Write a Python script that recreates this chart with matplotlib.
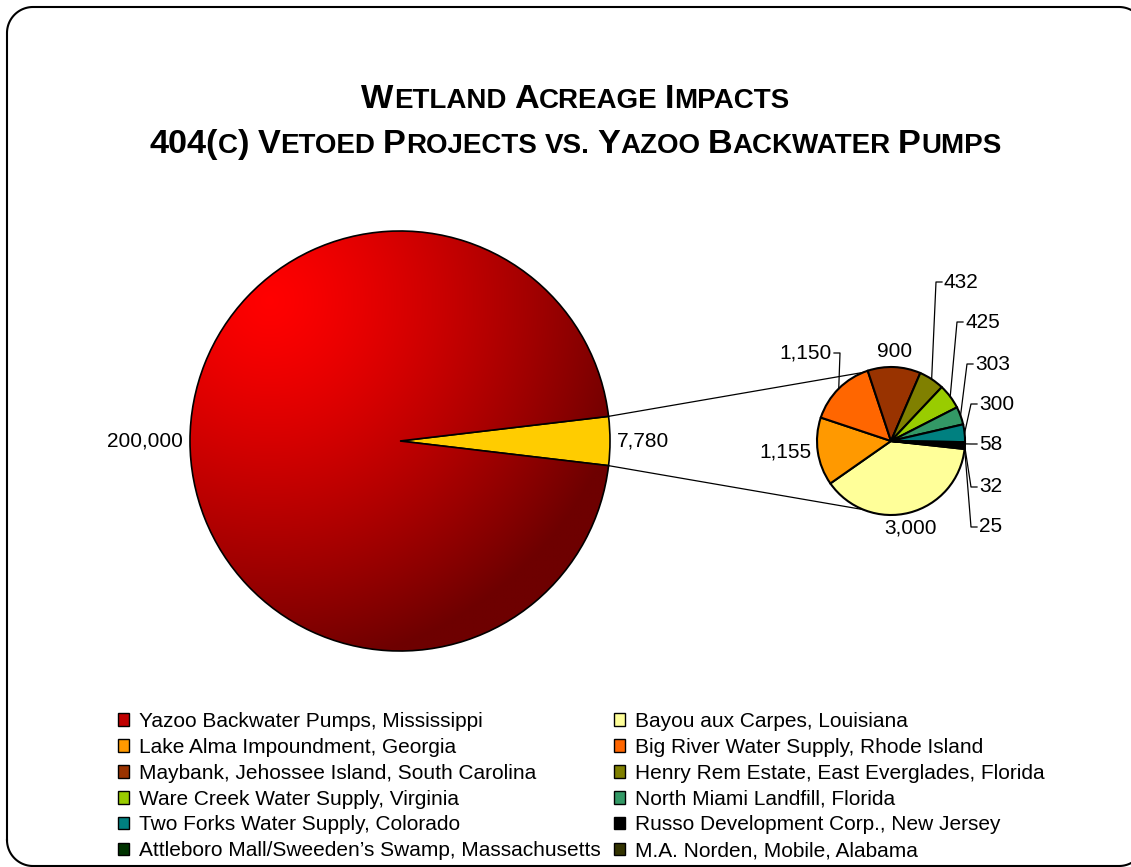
import numpy as np
import matplotlib
matplotlib.use('Agg')
import matplotlib.pyplot as plt
from matplotlib.patches import Patch
from matplotlib.colors import LinearSegmentedColormap

plt.rcParams['font.family'] = ['Liberation Sans', 'DejaVu Sans']

# ---- data ----
yazoo_name = 'Yazoo Backwater Pumps, Mississippi'
yazoo_acres = 200000
yazoo_color = '#c00000'
other_color = '#ffcc00'

vetoed_names = [
    'Bayou aux Carpes, Louisiana',
    'Lake Alma Impoundment, Georgia',
    'Big River Water Supply, Rhode Island',
    'Maybank, Jehossee Island, South Carolina',
    'Henry Rem Estate, East Everglades, Florida',
    'Ware Creek Water Supply, Virginia',
    'North Miami Landfill, Florida',
    'Two Forks Water Supply, Colorado',
    'Russo Development Corp., New Jersey',
    'Attleboro Mall/Sweeden\u2019s Swamp, Massachusetts',
    'M.A. Norden, Mobile, Alabama',
]
vetoed_acres = [3000, 1155, 1150, 900, 432, 425, 303, 300, 58, 32, 25]
vetoed_colors = ['#ffff99', '#ff9900', '#ff6600', '#993300', '#808000', '#99cc00',
                 '#339966', '#008080', '#000000', '#003300', '#333300']

title_lines = [
    [[('W', 1), ('ETLAND', 0)], [('A', 1), ('CREAGE', 0)], [('I', 1), ('MPACTS', 0)]],
    [[('404(', 1), ('C', 0), (')', 1)], [('V', 1), ('ETOED', 0)], [('P', 1), ('ROJECTS', 0)],
     [('VS.', 0)], [('Y', 1), ('AZOO', 0)], [('B', 1), ('ACKWATER', 0)], [('P', 1), ('UMPS', 0)]],
]

# ---- layout (pixels, from top-left) ----
W, H = 1131, 867


def py(y):
    return H - y


big_c, big_r = (400, py(441)), 210
small_c, small_r = (891, py(441)), 74
lab_fs = 15
leg_fs = 15
# elbow points of the leader lines on the small pie: index -> (x, y, side)
leader_elbows = {2: (840, 353, 'right'), 4: (936, 282, 'left'), 5: (957, 322, 'left'),
                 6: (967, 364, 'left'), 7: (971, 404, 'left'), 8: (971, 444, 'left'),
                 9: (971, 487, 'left'), 10: (971, 527, 'left')}

fig = plt.figure(figsize=(W / 100, H / 100), dpi=100)
ax = fig.add_axes([0, 0, 1, 1])


def fmt(v):
    return f'{v:,}'


def edge_pt(c, r, ang):
    a = np.radians(ang)
    return c[0] + r * np.cos(a), c[1] + r * np.sin(a)


# main pie
other_total = sum(vetoed_acres)
big_vals = [yazoo_acres, other_total]
start = 180.0 * other_total / (yazoo_acres + other_total)
big_w, _ = ax.pie(big_vals, colors=[yazoo_color, other_color], startangle=start,
                  center=big_c, radius=big_r, frame=True,
                  wedgeprops=dict(edgecolor='black', linewidth=1.2))

# red shading on the Yazoo slice
n = 500
xs = np.linspace(big_c[0] - big_r, big_c[0] + big_r, n)
ys = np.linspace(big_c[1] - big_r, big_c[1] + big_r, n)
X, Y = np.meshgrid(xs, ys)
fx, fy = big_c[0] - 0.62 * big_r, big_c[1] + 0.67 * big_r
t = np.clip(np.hypot(X - fx, Y - fy) / (1.76 * big_r), 0, 1) ** 1.3
cmap = LinearSegmentedColormap.from_list('shade', ['#ff0000', '#6e0000'])
yaz = big_w[0]
im = ax.imshow(t, cmap=cmap, vmin=0, vmax=1, origin='lower', interpolation='bilinear',
               extent=(xs[0], xs[-1], ys[0], ys[-1]), zorder=yaz.get_zorder() + 0.1)
im.set_clip_path(yaz)
yaz.set_facecolor('none')
yaz.set_zorder(im.get_zorder() + 0.1)

# secondary pie
small_w, _ = ax.pie(vetoed_acres, colors=vetoed_colors, startangle=-6.2, counterclock=False,
                    center=small_c, radius=small_r, frame=True,
                    wedgeprops=dict(edgecolor='black', linewidth=1.5))

# connector lines
ow = big_w[1]
for th_big, th_small in [(ow.theta2, 112), (ow.theta1, -112)]:
    x0, y0 = edge_pt(big_c, big_r, th_big)
    x1, y1 = edge_pt(small_c, small_r, th_small)
    ax.plot([x0, x1], [y0, y1], color='black', lw=0.9, zorder=0.5)

# data labels
for w, v in zip(big_w, big_vals):
    mid = (w.theta1 + w.theta2) / 2
    x, y = edge_pt(big_c, big_r + 7, mid)
    ax.text(x, y, fmt(v), ha='left' if np.cos(np.radians(mid)) > 0 else 'right',
            va='center', fontsize=lab_fs)

for i, (w, v) in enumerate(zip(small_w, vetoed_acres)):
    mid = (w.theta1 + w.theta2) / 2
    if i in leader_elbows:
        ex, ey, side = leader_elbows[i]
        ax0, ay0 = edge_pt(small_c, small_r, mid)
        sgn = 1 if side == 'left' else -1
        ax.plot([ax0, ex, ex + 6 * sgn], [ay0, py(ey), py(ey)], color='black', lw=0.9)
        ax.text(ex + 8 * sgn, py(ey), fmt(v), ha=side, va='center', fontsize=lab_fs)
    else:
        x, y = edge_pt(small_c, small_r + 6, mid)
        c, s = np.cos(np.radians(mid)), np.sin(np.radians(mid))
        ha = 'left' if c > 0.3 else ('right' if c < -0.3 else 'center')
        va = 'bottom' if s > 0.3 else ('top' if s < -0.3 else 'center')
        ax.text(x, y, fmt(v), ha=ha, va=va, fontsize=lab_fs)

# legend, two columns laid out row by row
handles = [Patch(facecolor=c, edgecolor='black', linewidth=1) for c in [yazoo_color] + vetoed_colors]
names = [yazoo_name] + vetoed_names
kw = dict(loc='upper left', frameon=False, fontsize=leg_fs, handlelength=0.55,
          handleheight=0.55, handletextpad=0.45, labelspacing=0.33, borderpad=0,
          borderaxespad=0, bbox_transform=ax.transData)
leg1 = ax.legend(handles[0::2], names[0::2], bbox_to_anchor=(118, py(712)), **kw)
ax.add_artist(leg1)
ax.legend(handles[1::2], names[1::2], bbox_to_anchor=(614, py(712)), **kw)

# title in small caps
renderer = fig.canvas.get_renderer()
big_fs, small_fs = 24.7, 20
for line, base in zip(title_lines, [108, 153]):
    pieces = []
    gap = 0.28 * small_fs * 100 / 72
    for wi, word in enumerate(line):
        for s, is_big in word:
            tx = ax.text(0, py(base), s, fontsize=big_fs if is_big else small_fs,
                         fontweight='bold', ha='left', va='baseline')
            pieces.append((tx, wi))
    widths = [p[0].get_window_extent(renderer).width for p in pieces]
    total = sum(widths) + gap * (len(line) - 1)
    x = W / 2 + 10 - total / 2
    prev = 0
    for (tx, wi), wd in zip(pieces, widths):
        if wi != prev:
            x += gap
            prev = wi
        tx.set_x(x)
        x += wd

# rounded border, running off the right and bottom edges
left, top, right, bottom, rad = 7, py(7), 1145, py(866), 26
arc = np.linspace(0, np.pi / 2, 30)
bx = np.concatenate([[left], left + rad - rad * np.cos(arc), right - rad + rad * np.sin(arc), [right],
                     right - rad + rad * np.cos(arc), left + rad - rad * np.sin(arc), [left]])
by = np.concatenate([[bottom + rad], top - rad + rad * np.sin(arc), top - rad + rad * np.cos(arc),
                     [bottom + rad], bottom + rad - rad * np.sin(arc), bottom + rad - rad * np.cos(arc),
                     [bottom + rad]])
ax.plot(bx, by, color='black', lw=1.5, clip_on=False)

ax.set_xlim(0, W)
ax.set_ylim(0, H)
ax.set_aspect('equal')
ax.axis('off')
fig.savefig('out.png', dpi=100)
